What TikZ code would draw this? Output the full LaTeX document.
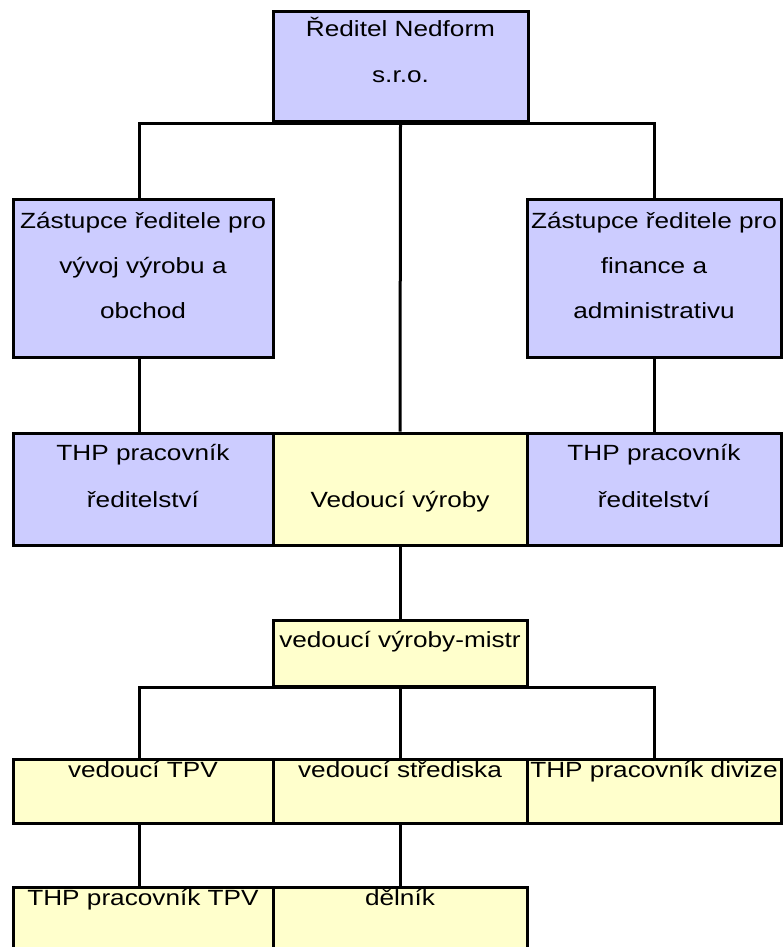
\documentclass[tikz,border=0pt]{standalone}
\usepackage{fontspec}
\newfontfamily\boxfont[FakeStretch=1.19]{Liberation Sans}
\definecolor{lav}{HTML}{CCCCFF}
\definecolor{lem}{HTML}{FFFFCC}
\begin{document}
\begin{tikzpicture}[x=1pt,y=-1pt,
  orgbox/.style={draw=black,line width=3pt,inner sep=0pt,rectangle},
  pbox/.style={orgbox,fill=lav},
  ybox/.style={orgbox,fill=lem},
  txt/.style={anchor=base,inner sep=0pt,font=\boxfont\fontsize{22}{26}\selectfont},
  conn/.style={draw=black,line width=3pt}]
\useasboundingbox (0,0) rectangle (783,947);
\fill[white] (0,0) rectangle (783,947);
% boxes
\node[pbox,minimum width=255pt,minimum height=110pt] (top) at (400.5,67) {};
\node[pbox,minimum width=260pt,minimum height=158pt] (zl) at (143,278) {};
\node[pbox,minimum width=254pt,minimum height=158pt] (zr) at (654,278) {};
\node[pbox,minimum width=260pt,minimum height=112pt] (thpl) at (143,489) {};
\node[pbox,minimum width=254pt,minimum height=112pt] (thpr) at (654,489) {};
\node[ybox,minimum width=254pt,minimum height=112pt] (vv) at (400,489) {};
\node[ybox,minimum width=254pt,minimum height=66pt] (mistr) at (400,653) {};
\node[ybox,minimum width=260pt,minimum height=64pt] (tpv) at (143,791) {};
\node[ybox,minimum width=254pt,minimum height=64pt] (str) at (400,791) {};
\node[ybox,minimum width=254pt,minimum height=64pt] (div) at (654,791) {};
\node[ybox,minimum width=260pt,minimum height=70pt] (thptpv) at (143,922) {};
\node[ybox,minimum width=254pt,minimum height=70pt] (delnik) at (400,922) {};
% texts
\node[txt] (t1a) at (400.5,37) {Ředitel Nedform};
\node[txt] (t1b) at (400.5,83) {s.r.o.};
\node[txt] (t2a) at (143,228) {Zástupce ředitele pro};
\node[txt] (t2b) at (143,273) {vývoj výrobu a};
\node[txt] (t2c) at (143,318) {obchod};
\node[txt] (t3a) at (654,228) {Zástupce ředitele pro};
\node[txt] (t3b) at (654,273) {finance a};
\node[txt] (t3c) at (654,318) {administrativu};
\node[txt] (t4a) at (143,460) {THP pracovník};
\node[txt] (t4b) at (143,507) {ředitelství};
\node[txt] (t5a) at (400,507) {Vedoucí výroby};
\node[txt] (t6a) at (654,460) {THP pracovník};
\node[txt] (t6b) at (654,507) {ředitelství};
\node[txt] (t7) at (400,647) {vedoucí výroby-mistr};
\node[txt] (t8) at (143,777) {vedoucí TPV};
\node[txt] (t9) at (400,777) {vedoucí střediska};
\node[txt] (t10) at (654,777) {THP pracovník divize};
\node[txt] (t11) at (143,905) {THP pracovník TPV};
\node[txt] (t12) at (400,905) {dělník};
% connectors
\draw[conn] ([xshift=-4pt]zl.north) |- (top.south) -| (zr.north);
\draw[conn] (top.south) -- (vv.north);
\draw[conn] ([xshift=-4pt]zl.south) -- ([xshift=-4pt]thpl.north);
\draw[conn] (zr.south) -- (thpr.north);
\draw[conn] (vv.south) -- (mistr.north);
\draw[conn] ([xshift=-4pt]tpv.north) |- (mistr.south) -| (div.north);
\draw[conn] (mistr.south) -- (str.north);
\draw[conn] ([xshift=-4pt]tpv.south) -- ([xshift=-4pt]thptpv.north);
\draw[conn] (str.south) -- (delnik.north);
\end{tikzpicture}
\end{document}
